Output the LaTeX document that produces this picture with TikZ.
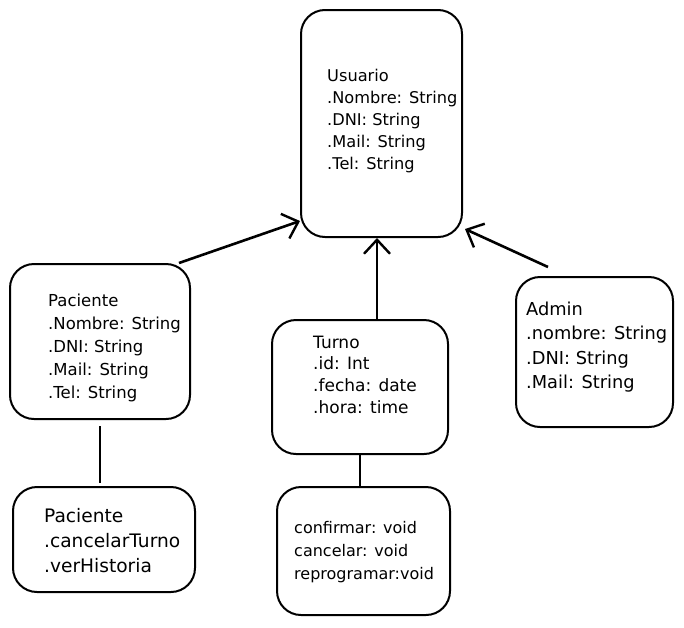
\documentclass[tikz,border=0pt]{standalone}
\usepackage{fontspec}
\setmainfont{DejaVu Sans}
\usetikzlibrary{shapes,arrows,arrows.meta}

\begin{document}
\begin{tikzpicture}[x=1pt,y=-1pt]
\tikzstyle{box}=[draw,line width=2pt,rounded corners=24pt,inner sep=0pt];
\tikzstyle{txt}=[anchor=north west,align=left,inner sep=0pt];
\tikzstyle{link}=[line width=2.6pt];
\tikzstyle{gen}=[link,-{Straight Barb[length=14pt,width=26pt,line width=2.4pt]}];

\useasboundingbox (0,0) rectangle (684,627);

\node[box,minimum width=161pt,minimum height=227pt] (usuario) at (381.5,123.5) {};
\node[box,minimum width=180pt,minimum height=155pt] (paciente) at (100,341.5) {};
\node[box,minimum width=182pt,minimum height=105pt] (pacienteOps) at (104,539.5) {};
\node[box,minimum width=176pt,minimum height=134pt] (turno) at (360,387) {};
\node[box,minimum width=173pt,minimum height=128pt] (turnoOps) at (363.5,551) {};
\node[box,minimum width=157pt,minimum height=150pt] (admin) at (594.5,352) {};

\node[txt,font=\fontsize{16.2}{22}\selectfont] (usuarioAttr) at (327,69) {Usuario\\.Nombre: String\\.DNI: String\\.Mail: String\\.Tel: String};
\node[txt,font=\fontsize{16.5}{23}\selectfont] (pacienteAttr) at (48,294) {Paciente\\.Nombre: String\\.DNI: String\\.Mail: String\\.Tel: String};
\node[txt,font=\fontsize{18.6}{25}\selectfont] (pacienteMet) at (44,508.5) {Paciente\\.cancelarTurno\\.verHistoria};
\node[txt,font=\fontsize{17}{21.7}\selectfont] (turnoAttr) at (313,335.5) {Turno\\.id: Int\\.fecha: date\\.hora: time};
\node[txt,font=\fontsize{16}{23}\selectfont] (turnoMet) at (294,521) {confirmar: void\\cancelar: void\\reprogramar:void};
\node[txt,font=\fontsize{17.8}{24.5}\selectfont] (adminAttr) at (526,301.5) {Admin\\.nombre: String\\.DNI: String\\.Mail: String};

\draw[gen] ([xshift=-12pt]paciente.north east) -- ([yshift=17pt]usuario.south west);
\draw[gen] ([xshift=17pt]turno.north) -- ([xshift=-4.5pt]usuario.south);
\draw[gen] ([xshift=33pt,yshift=9pt]admin.north west) -- ([xshift=2pt,yshift=9pt]usuario.south east);
\draw[link] ([yshift=-6pt]paciente.south) -- ([xshift=-4pt,yshift=3pt]pacienteOps.north);
\draw[link] (turno.south) -- (turno.south |- turnoOps.north);
\end{tikzpicture}
\end{document}
